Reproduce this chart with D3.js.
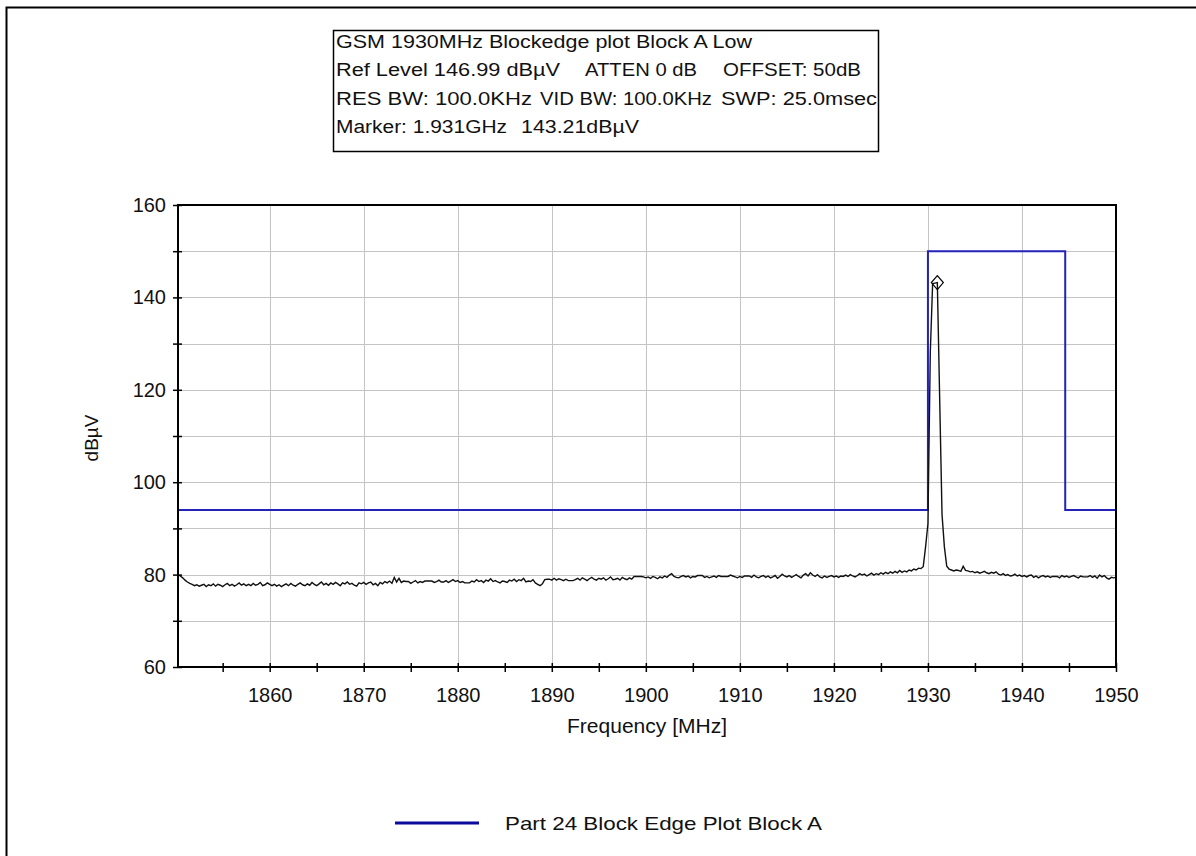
<!DOCTYPE html>
<html>
<head>
<meta charset="utf-8">
<script src="https://cdn.jsdelivr.net/npm/d3@7"></script>
<style>
  html, body { margin: 0; padding: 0; background: #fff; }
  svg { display: block; font-family: "Liberation Sans", Arial, sans-serif; }
</style>
</head>
<body>
<svg id="chart" width="1196" height="856"></svg>
<script>
// ---- Sweep data (spectrum analyzer trace) ----
const sweepStart = 1850.25;   // MHz, first sample
const sweepStep = 0.25;       // MHz between samples
const traceLevels = [
  80.0, 79.7, 79.3, 78.8, 78.4, 78.1, 77.9, 77.6, 77.8, 77.5, 77.7, 77.9, 77.4, 77.8, 77.6, 78.0, 77.5, 77.9, 77.7, 77.4,
  77.8, 78.1, 77.6, 77.9, 77.5, 77.8, 78.2, 77.7, 78.0, 77.6, 77.9, 77.6, 78.1, 77.7, 77.9, 78.3, 77.6, 77.8, 78.2, 77.9,
  77.6, 77.9, 77.5, 77.8, 77.4, 77.7, 78.0, 77.6, 78.1, 77.7, 77.5, 77.9, 78.2, 77.8, 77.6, 78.0, 77.7, 78.3, 77.9, 77.6,
  78.0, 78.4, 77.8, 78.1, 77.7, 78.2, 77.9, 78.3, 78.0, 77.6, 78.2, 78.0, 78.4, 77.9, 78.1, 77.7, 77.5, 78.2, 78.0, 78.3,
  77.9, 78.2, 78.4, 77.8, 78.1, 77.6, 78.3, 78.0, 78.5, 78.2, 78.6, 78.1, 79.4, 78.4, 79.2, 78.3, 78.6, 78.5, 78.5, 78.1,
  78.4, 78.7, 78.2, 78.5, 78.3, 78.6, 78.6, 78.6, 78.6, 78.3, 78.5, 78.8, 78.4, 78.4, 78.7, 78.3, 78.6, 78.9, 78.5, 78.7,
  78.3, 78.5, 78.2, 78.2, 78.2, 78.6, 78.4, 78.9, 78.5, 78.7, 78.3, 78.8, 78.6, 79.1, 78.5, 78.7, 78.4, 78.2, 78.6, 78.5,
  78.3, 78.8, 78.6, 79.0, 78.5, 78.9, 78.7, 79.2, 78.4, 78.6, 78.5, 78.9, 78.2, 77.9, 77.6, 78.0, 78.9, 79.0, 79.0, 78.8,
  79.2, 78.8, 79.1, 78.9, 78.7, 79.0, 78.7, 78.7, 78.7, 78.9, 79.2, 78.8, 79.3, 79.0, 78.7, 79.1, 79.4, 79.0, 78.8, 79.2,
  79.0, 79.3, 78.8, 79.1, 79.5, 78.9, 79.0, 79.2, 78.8, 79.4, 79.1, 78.9, 79.3, 79.0, 79.6, 79.6, 79.6, 79.6, 79.5, 79.3,
  79.5, 79.2, 79.6, 79.4, 79.1, 79.5, 79.3, 79.7, 79.4, 79.9, 80.2, 79.6, 79.4, 79.3, 79.6, 79.8, 79.5, 79.7, 79.3, 79.6,
  79.5, 79.8, 79.8, 79.8, 79.4, 79.6, 79.3, 79.5, 79.7, 79.4, 79.8, 79.6, 79.6, 79.6, 79.6, 79.9, 79.7, 79.5, 79.3, 79.6,
  79.4, 79.7, 79.7, 79.7, 79.4, 79.9, 79.5, 79.3, 79.6, 79.8, 79.4, 79.7, 79.3, 79.5, 79.8, 79.2, 79.6, 80.1, 79.7, 79.5,
  79.8, 79.4, 79.7, 80.0, 79.6, 79.3, 79.9, 80.2, 79.7, 80.4, 79.9, 79.6, 80.0, 79.5, 79.3, 79.7, 79.4, 79.6, 79.8, 79.5,
  79.7, 79.4, 79.7, 79.6, 79.9, 79.6, 80.0, 79.7, 79.5, 79.8, 80.2, 79.9, 80.1, 79.7, 80.0, 80.3, 79.9, 80.2, 80.0, 80.4,
  80.1, 80.5, 80.2, 80.6, 80.3, 80.7, 80.4, 80.9, 80.5, 80.8, 80.6, 81.0, 80.8, 81.2, 81.0, 81.4, 81.3, 81.7, 86.0, 91.0,
  128.0, 143.0, 143.1, 143.21, 118.0, 93.0, 86.0, 81.8, 81.2, 81.0, 80.8, 81.0, 80.9, 80.7, 81.8, 80.9, 80.8, 80.6, 80.7, 80.4,
  80.6, 80.3, 80.5, 80.7, 80.4, 80.2, 80.5, 80.3, 80.6, 80.1, 79.9, 80.2, 79.8, 80.0, 79.7, 79.8, 80.1, 79.7, 79.9, 79.6,
  79.8, 79.5, 79.8, 79.9, 79.4, 79.7, 79.3, 79.6, 79.8, 79.5, 79.7, 79.4, 79.6, 79.6, 79.6, 79.3, 79.8, 79.5, 79.7, 79.4,
  79.6, 79.8, 79.5, 79.3, 79.7, 79.5, 79.5, 79.5, 79.8, 79.4, 79.7, 79.2, 79.9, 79.5, 79.8, 79.3, 79.0, 79.4, 79.3, 79.4
];

// ---- Part 24 block edge limit ----
const limitFreqs  = [1850.25, 1930, 1930, 1944.6, 1944.6, 1950];
const limitLevels = [94, 94, 150, 150, 94, 94];

// ---- Marker ----
const markerFreq = 1931.0;    // MHz
const markerLevel = 143.21;   // dBµV

// ---- Axes ----
const xDomain = [1850.25, 1950];
const yDomain = [60, 160];
const xLabelTicks = [1860, 1870, 1880, 1890, 1900, 1910, 1920, 1930, 1940, 1950];
const xMinorTicks = [1855, 1865, 1875, 1885, 1895, 1905, 1915, 1925, 1935, 1945];
const yLabelTicks = [60, 80, 100, 120, 140, 160];
const yMinorTicks = [70, 90, 110, 130, 150];

// ---- Text ----
const infoLines = [
  ["GSM 1930MHz Blockedge plot Block A Low"],
  ["Ref Level 146.99 dBµV", "ATTEN 0 dB", "OFFSET: 50dB"],
  ["RES BW: 100.0KHz", "VID BW: 100.0KHz", "SWP: 25.0msec"],
  ["Marker: " + (markerFreq / 1000).toFixed(3) + "GHz", markerLevel.toFixed(2) + "dBµV"]
];
const xTitle = "Frequency [MHz]";
const yTitle = "dBµV";
const legendLabel = "Part 24 Block Edge Plot  Block A";

// ================= drawing =================
const svg = d3.select("#chart");
const W = 1196, H = 856;
const plot = { left: 178, right: 1116, top: 205, bottom: 667 };

svg.append("rect").attr("width", W).attr("height", H).attr("fill", "#fff");

// outer window frame (left and top edges)
svg.append("path")
  .attr("d", `M6.5,${H} V7.5 H${W}`)
  .attr("fill", "none").attr("stroke", "#000").attr("stroke-width", 2);

const x = d3.scaleLinear().domain(xDomain).range([plot.left, plot.right]);
const y = d3.scaleLinear().domain(yDomain).range([plot.bottom, plot.top]);

// gridlines
const grid = svg.append("g").attr("stroke", "#c4c4c4").attr("stroke-width", 1);
const yGridVals = yLabelTicks.concat(yMinorTicks).filter(v => v > yDomain[0] && v < yDomain[1]);
grid.selectAll("line.h").data(yGridVals).join("line")
  .attr("x1", plot.left).attr("x2", plot.right)
  .attr("y1", d => Math.round(y(d)) + 0.5).attr("y2", d => Math.round(y(d)) + 0.5);
grid.selectAll("line.v").data(xLabelTicks.filter(v => v < xDomain[1])).join("line")
  .attr("y1", plot.top).attr("y2", plot.bottom)
  .attr("x1", d => Math.round(x(d)) + 0.5).attr("x2", d => Math.round(x(d)) + 0.5);

// clip for series
svg.append("clipPath").attr("id", "plotClip").append("rect")
  .attr("x", plot.left).attr("y", plot.top - 12)
  .attr("width", plot.right - plot.left).attr("height", plot.bottom - plot.top + 12);

// limit line
const lineGen = d3.line().x(d => x(d[0])).y(d => y(d[1]));
svg.append("path")
  .datum(limitFreqs.map((f, i) => [f, limitLevels[i]]))
  .attr("d", lineGen)
  .attr("fill", "none").attr("stroke", "#2323b8").attr("stroke-width", 2)
  .attr("clip-path", "url(#plotClip)");

// measured trace
const tracePts = traceLevels.map((v, i) => [sweepStart + i * sweepStep, v]);
svg.append("path")
  .datum(tracePts)
  .attr("d", lineGen)
  .attr("fill", "none").attr("stroke", "#111").attr("stroke-width", 1.4)
  .attr("stroke-linejoin", "miter")
  .attr("clip-path", "url(#plotClip)");

// marker diamond
const mx = x(markerFreq), my = y(markerLevel);
svg.append("path")
  .attr("d", `M${mx},${my - 7} L${mx + 6},${my} L${mx},${my + 7} L${mx - 6},${my} Z`)
  .attr("fill", "none").attr("stroke", "#000").attr("stroke-width", 1.2);

// plot frame
svg.append("rect")
  .attr("x", plot.left).attr("y", plot.top)
  .attr("width", plot.right - plot.left).attr("height", plot.bottom - plot.top)
  .attr("fill", "none").attr("stroke", "#000").attr("stroke-width", 2);

// y axis
const yAxis = svg.append("g").attr("transform", `translate(${plot.left},0)`)
  .call(d3.axisLeft(y).tickValues(yLabelTicks.concat(yMinorTicks)).tickSize(5).tickPadding(7)
    .tickFormat(d => yLabelTicks.includes(d) ? d : ""));
yAxis.select(".domain").remove();
yAxis.selectAll(".tick line").attr("x1", 4).attr("x2", -5).attr("stroke", "#000").attr("stroke-width", 1.5);
yAxis.selectAll(".tick text").attr("font-size", 20).attr("fill", "#111")
  .attr("font-family", "'Liberation Sans', Arial, sans-serif");

// x axis
const xAxis = svg.append("g").attr("transform", `translate(0,${plot.bottom})`)
  .call(d3.axisBottom(x).tickValues(xLabelTicks.concat(xMinorTicks)).tickSize(5).tickPadding(16)
    .tickFormat(d => xLabelTicks.includes(d) ? d : ""));
xAxis.select(".domain").remove();
xAxis.selectAll(".tick line").attr("y1", -4).attr("y2", 5).attr("stroke", "#000").attr("stroke-width", 1.5);
xAxis.selectAll(".tick text").attr("font-size", 20).attr("fill", "#111")
  .attr("font-family", "'Liberation Sans', Arial, sans-serif");

// axis titles
svg.append("text")
  .attr("x", 647).attr("y", 733)
  .attr("text-anchor", "middle").attr("font-size", 20).attr("fill", "#111")
  .attr("textLength", 160).attr("lengthAdjust", "spacingAndGlyphs")
  .text(xTitle);
svg.append("text")
  .attr("transform", `translate(98,438) rotate(-90)`)
  .attr("text-anchor", "middle").attr("font-size", 19).attr("fill", "#111")
  .text(yTitle);

// info box
const box = { x: 333, y: 30, w: 545, h: 121 };
svg.append("rect").attr("x", box.x + 0.5).attr("y", box.y + 0.5)
  .attr("width", box.w).attr("height", box.h)
  .attr("fill", "#fff").attr("stroke", "#000").attr("stroke-width", 1.5);
// [x, width] for each text run
const infoLayout = [
  [[336, 416]],
  [[336, 224], [585, 112], [723, 138]],
  [[336, 196], [540, 172], [721, 156]],
  [[336, 171], [521, 118]]
];
const infoBaselines = [48, 76, 105, 133];
infoLines.forEach((runs, li) => {
  runs.forEach((s, ri) => {
    const [tx, tw] = infoLayout[li][ri];
    svg.append("text")
      .attr("x", tx).attr("y", infoBaselines[li])
      .attr("font-size", 18).attr("fill", "#111")
      .attr("textLength", tw).attr("lengthAdjust", "spacingAndGlyphs")
      .text(s);
  });
});

// legend
svg.append("line").attr("x1", 395).attr("x2", 479).attr("y1", 823).attr("y2", 823)
  .attr("stroke", "#0a0a9c").attr("stroke-width", 3);
svg.append("text").attr("x", 505).attr("y", 823).attr("dy", "0.35em")
  .attr("font-size", 19).attr("fill", "#111")
  .attr("textLength", 317).attr("lengthAdjust", "spacingAndGlyphs")
  .text(legendLabel);
</script>
</body>
</html>
